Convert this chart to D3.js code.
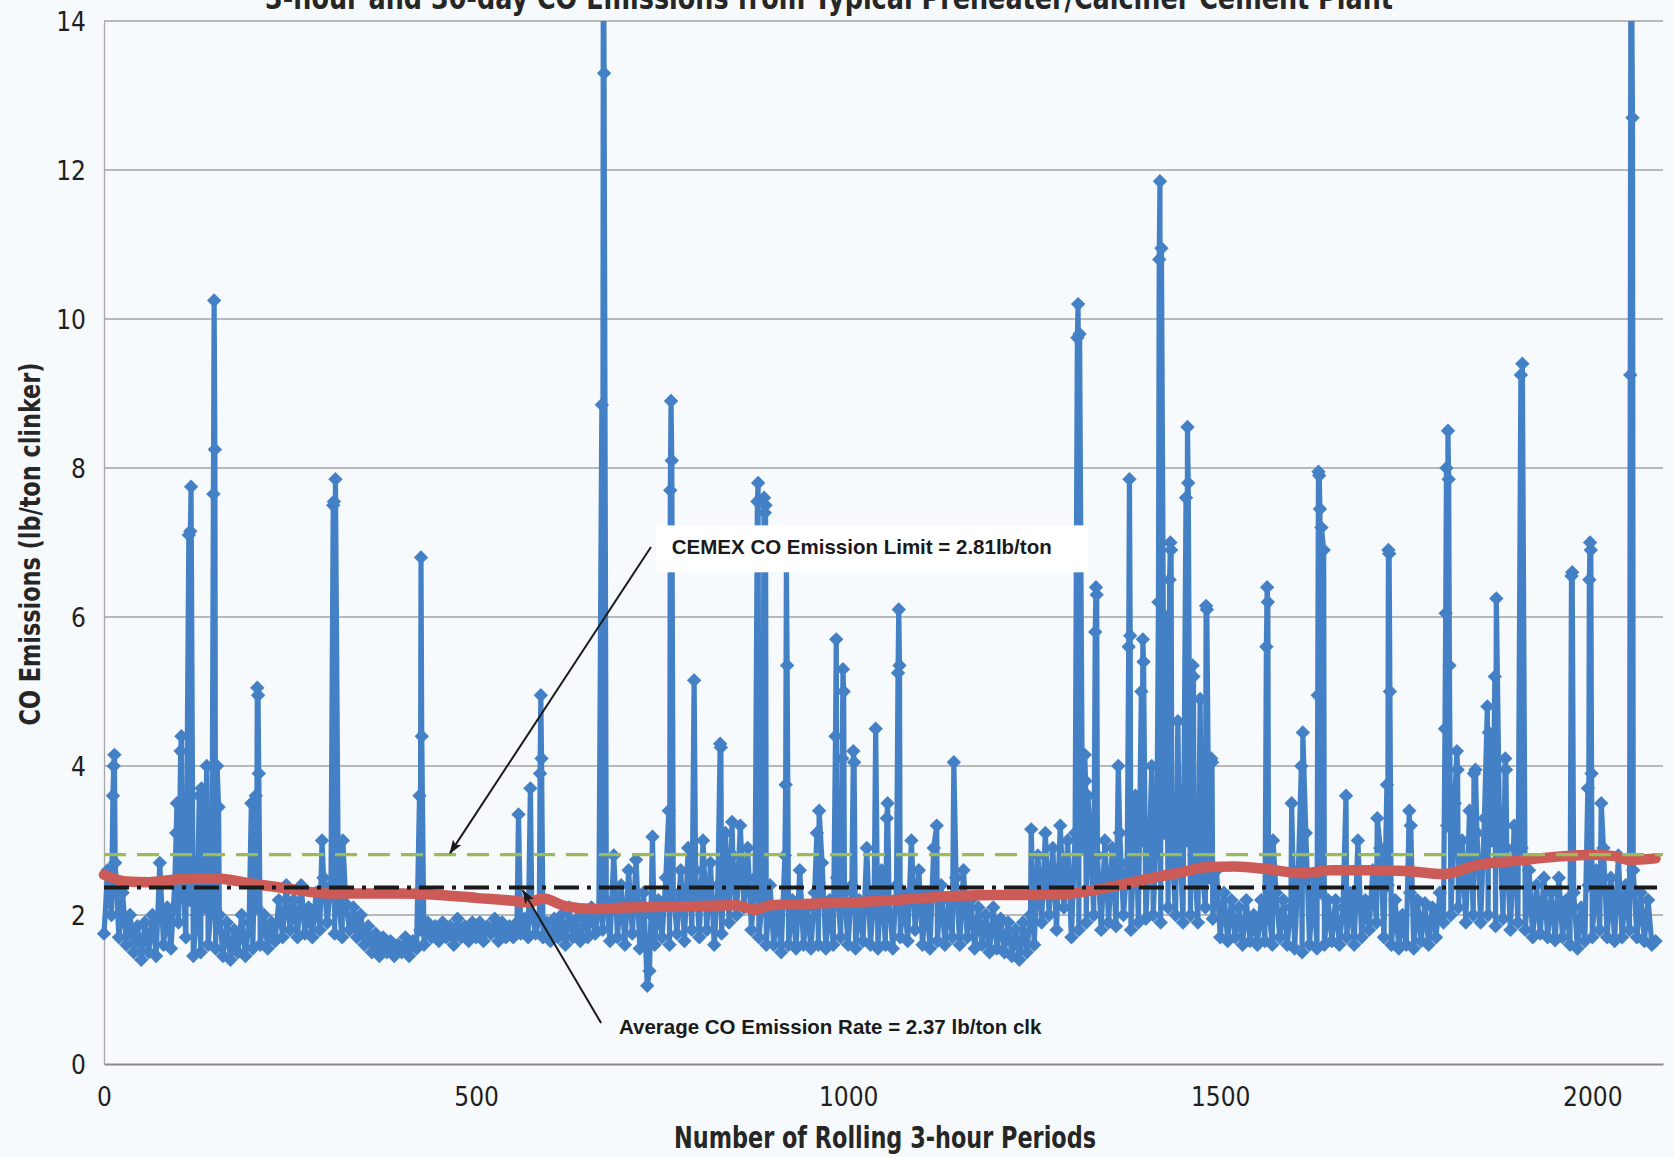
<!DOCTYPE html>
<html><head><meta charset="utf-8">
<script src="https://cdn.jsdelivr.net/npm/d3@7"></script>
<style>html,body{margin:0;padding:0;background:#f6fafc;} svg{display:block}</style>
</head><body><svg id="c" width="1674" height="1157"></svg>
<script>
// ---------------- DATA ----------------
const titleText = "3-hour and 30-day CO Emissions from Typical Preheater/Calciner Cement Plant";
const xLabel = "Number of Rolling 3-hour Periods";
const yLabel = "CO Emissions (lb/ton clinker)";
const xTicks = [0, 500, 1000, 1500, 2000];
const yTicks = [0, 2, 4, 6, 8, 10, 12, 14];

// 3-hour rolling values, one reading every 5 periods (period 0 .. 2085)
const basePeriodStep = 5;
const baseline3hr = [
 1.75,2.6,2.0,2.7,1.7,2.3,1.6,2.0,1.5,1.85,
 1.4,1.9,1.5,2.0,1.45,2.7,1.6,2.1,1.55,2.4,
 1.9,2.6,1.7,2.2,1.45,2.0,1.5,2.1,1.6,2.2,
 1.55,2.0,1.45,1.9,1.4,1.8,1.5,2.0,1.45,1.9,
 1.55,2.1,1.6,2.0,1.55,1.9,1.65,2.2,1.7,2.4,
 1.8,2.2,1.7,2.4,1.75,2.1,1.7,2.3,1.8,2.5,
 1.9,2.4,1.75,2.2,1.7,2.15,1.8,2.1,1.7,2.0,
 1.6,1.85,1.5,1.75,1.45,1.7,1.5,1.65,1.45,1.6,
 1.5,1.7,1.45,1.65,1.55,1.8,1.6,1.9,1.7,1.85,
 1.65,1.9,1.7,1.85,1.6,1.95,1.7,1.85,1.65,1.9,
 1.7,1.9,1.65,1.85,1.75,1.95,1.65,1.9,1.7,1.85,
 1.7,1.9,1.75,1.95,1.7,2.0,1.75,1.95,1.7,1.9,
 1.65,1.95,1.7,2.0,1.6,2.1,1.7,1.95,1.65,2.0,
 1.7,2.1,1.75,2.05,1.8,2.2,1.65,2.8,1.7,2.4,
 1.6,2.6,1.75,2.74,1.55,2.3,1.05,2.0,1.6,2.2,
 1.7,2.5,1.6,2.3,1.75,2.6,1.65,2.9,1.8,2.6,
 1.7,3.0,1.8,2.7,1.6,2.4,1.75,3.1,1.9,2.8,
 2.0,3.2,2.1,2.9,1.8,2.5,1.7,2.2,1.6,2.4,
 1.6,2.1,1.5,2.8,1.6,2.2,1.55,2.6,1.6,2.1,
 1.55,2.3,1.6,2.7,1.55,2.2,1.6,2.5,1.7,2.3,
 1.6,2.4,1.55,2.2,1.65,2.9,1.6,2.3,1.55,2.6,
 1.6,2.2,1.55,2.4,1.7,2.3,1.65,3.0,1.8,2.6,
 1.6,2.3,1.55,2.9,1.65,2.4,1.6,2.2,1.7,2.5,
 1.6,2.6,1.7,2.2,1.55,2.1,1.6,2.0,1.5,2.1,
 1.55,1.95,1.5,1.9,1.45,1.8,1.4,1.9,1.5,2.0,
 1.6,2.8,1.9,3.1,2.0,2.9,1.8,3.2,2.1,3.0,
 1.7,3.1,1.8,2.9,1.9,3.2,2.0,2.8,1.8,3.0,
 1.9,2.9,1.85,3.1,2.0,2.7,1.8,3.2,1.9,3.0,
 1.95,3.0,2.0,3.3,1.9,3.1,2.1,2.9,2.0,3.2,
 1.9,3.0,2.0,2.8,1.9,2.7,2.1,2.5,1.95,2.6,
 1.7,2.3,1.65,2.2,1.7,2.1,1.6,2.2,1.65,2.0,
 1.6,2.2,1.65,2.1,1.6,2.3,1.7,2.2,1.6,2.1,
 1.55,2.6,1.5,3.1,1.6,2.5,1.55,2.3,1.6,2.2,
 1.65,2.2,1.6,2.1,1.7,2.3,1.6,3.0,1.7,2.2,
 1.8,2.6,1.9,2.9,1.7,2.4,1.6,2.2,1.55,2.0,
 1.6,2.3,1.55,2.2,1.65,2.16,1.6,2.1,1.7,2.3,
 1.9,3.2,2.0,3.5,2.1,3.0,1.9,3.4,2.0,3.1,
 1.9,3.3,2.0,3.0,1.85,3.4,1.95,2.9,1.8,3.2,
 1.9,2.9,1.8,2.6,1.7,2.4,1.75,2.5,1.7,2.3,
 1.66,2.5,1.7,2.2,1.6,2.3,1.55,2.1,1.65,2.4,
 1.7,2.6,1.8,2.9,1.7,2.5,1.65,2.8,1.7,2.4,
 1.8,2.6,1.7,2.3,1.65,2.2,1.6,1.65
];

// high 3-hour readings (spikes): [period, lb/ton]
const spikes3hr = [
 [12,3.6],[13,4.0],[14,4.15],
 [97,3.1],[98,3.5],[103,4.2],[104,4.4],
 [114,7.1],[116,7.15],[117,7.75],
 [128,3.6],[131,3.7],[138,4.0],
 [147,7.65],[148,10.25],[149,8.25],
 [152,4.0],[154,3.45],
 [198,3.5],[204,3.6],[206,5.05],[207,4.95],[208,3.9],
 [293,3.0],[308,7.5],[309,7.55],[311,7.85],[321,3.0],
 [424,3.6],[426,6.8],[427,4.4],
 [557,3.35],[573,3.7],[586,3.9],[587,4.95],[588,4.1],
 [669,8.85],[671,16.0],[672,13.3],
 [733,1.25],[737,3.05],
 [759,3.4],[761,7.7],[762,8.9],[763,8.1],
 [793,5.15],[828,4.3],[829,4.25],[844,3.25],
 [878,7.55],[879,7.8],[887,7.6],[888,7.4],[889,7.5],
 [916,3.75],[917,6.7],[918,5.35],
 [958,3.1],[961,3.4],
 [983,4.4],[984,5.7],[992,4.1],[993,5.3],[994,5.0],
 [1007,4.2],[1008,4.05],[1037,4.5],[1052,3.3],[1053,3.5],
 [1067,5.25],[1068,6.1],[1069,5.35],
 [1119,3.2],[1142,4.05],[1246,3.15],
 [1308,9.75],[1309,10.2],[1311,9.8],
 [1318,4.15],[1319,3.8],[1322,3.6],
 [1332,5.8],[1333,6.4],[1334,6.3],
 [1363,4.0],[1377,5.6],[1378,7.85],[1379,5.75],[1386,3.6],
 [1394,5.0],[1396,5.7],[1397,5.4],[1408,4.0],
 [1417,6.2],[1418,10.8],[1419,11.85],[1421,10.95],
 [1426,5.5],[1427,6.0],[1432,6.5],[1433,7.0],[1434,6.9],
 [1443,4.6],[1454,7.6],[1456,8.55],[1457,7.8],
 [1463,5.35],[1464,5.2],[1473,4.9],[1481,6.15],[1482,6.1],
 [1488,4.1],[1489,4.05],
 [1562,5.6],[1563,6.4],[1564,6.2],[1571,3.0],[1596,3.5],
 [1609,4.0],[1611,4.45],
 [1631,4.95],[1632,7.95],[1633,7.9],[1634,7.45],[1636,7.2],[1639,6.9],
 [1669,3.6],[1711,3.3],
 [1724,3.75],[1726,6.9],[1727,6.85],[1728,5.0],
 [1754,3.4],[1756,3.2],
 [1802,4.5],[1803,6.05],[1804,8.0],[1806,8.5],[1807,7.85],[1808,5.35],
 [1818,4.2],[1819,3.95],[1841,3.9],[1843,3.95],
 [1859,4.8],[1861,4.45],[1868,4.4],[1869,5.2],[1871,6.25],
 [1883,4.1],[1884,3.95],[1904,9.25],[1906,9.4],
 [1972,6.55],[1973,6.6],
 [1994,3.7],[1996,6.5],[1997,7.0],[1998,6.9],[1999,3.9],
 [2012,3.5],[2051,9.25],[2052,16.0],[2054,12.7]
];

// 30-day rolling average: [period, lb/ton]
const avg30day = [
 [0,2.54],[30,2.45],[60,2.44],[100,2.48],[150,2.49],[200,2.42],[250,2.35],
 [300,2.29],[350,2.29],[400,2.29],[450,2.27],[500,2.23],[550,2.19],[570,2.17],
 [590,2.22],[620,2.12],[660,2.08],[700,2.10],[750,2.11],[800,2.12],[850,2.13],
 [875,2.07],[895,2.13],[950,2.15],[1000,2.17],[1050,2.19],[1100,2.23],[1150,2.26],
 [1200,2.27],[1250,2.27],[1300,2.29],[1350,2.37],[1400,2.48],[1450,2.58],[1480,2.64],
 [1520,2.65],[1560,2.62],[1610,2.56],[1650,2.60],[1700,2.60],[1750,2.59],[1800,2.55],
 [1845,2.67],[1900,2.73],[1950,2.78],[2000,2.81],[2030,2.79],[2050,2.74],[2085,2.76]
];

const emissionLimit = 2.81;
const averageRate = 2.37;
const limitLabel = "CEMEX CO Emission Limit = 2.81lb/ton";
const averageLabel = "Average CO Emission Rate = 2.37 lb/ton clk";

// ---------------- LAYOUT ----------------
const W = 1674, H = 1157;
const plot = {left: 104, right: 1663, top: 21, bottom: 1064};
const xMax = 2095, yMax = 14;
const narrow = '"Liberation Sans Narrow","Arial Narrow","DejaVu Sans Condensed",sans-serif';
const arial = '"Liberation Sans",Arial,sans-serif';

const svg = d3.select("#c");
svg.append("rect").attr("width", W).attr("height", H).attr("fill", "#f6fafc");

const x = d3.scaleLinear().domain([0, xMax]).range([plot.left, plot.right]);
const y = d3.scaleLinear().domain([0, yMax]).range([plot.bottom, plot.top]);

const defs = svg.append("defs");
defs.append("clipPath").attr("id", "clip").append("rect")
  .attr("x", plot.left - 8).attr("y", plot.top)
  .attr("width", plot.right - plot.left + 8).attr("height", plot.bottom - plot.top);
defs.append("marker").attr("id", "arrow").attr("viewBox", "0 0 14 10")
  .attr("refX", 13).attr("refY", 5).attr("markerWidth", 15).attr("markerHeight", 10)
  .attr("markerUnits", "userSpaceOnUse").attr("orient", "auto")
  .append("path").attr("d", "M0,0 L14,5 L0,10 L3,5 Z").attr("fill", "#1a1a1a");

// gridlines
svg.append("g").selectAll("line").data(yTicks.filter(d => d > 0)).join("line")
  .attr("x1", plot.left).attr("x2", plot.right)
  .attr("y1", d => y(d)).attr("y2", d => y(d))
  .attr("stroke", "#a3a3a3").attr("stroke-width", 1.3);

// axes
const yAxis = d3.axisLeft(y).tickValues(yTicks).tickSize(0).tickFormat(d3.format("d"));
const gy = svg.append("g").attr("transform", `translate(${plot.left},0)`).call(yAxis);
gy.select(".domain").attr("stroke", "#a8a8a8").attr("stroke-width", 1.3);
gy.selectAll("text").attr("x", -18).attr("dy", "0.35em")
  .style("font-family", narrow).style("font-size", "26px").attr("fill", "#1f1f1f");

const xAxis = d3.axisBottom(x).tickValues(xTicks).tickSize(0).tickFormat(d3.format("d"));
const gx = svg.append("g").attr("transform", `translate(0,${plot.bottom})`).call(xAxis);
gx.select(".domain").attr("stroke", "#8a8a8a").attr("stroke-width", 2.2);
gx.selectAll("text").attr("y", 24).attr("dy", "0.71em")
  .style("font-family", narrow).style("font-size", "26px").attr("fill", "#1f1f1f");

// 3-hour series
const series = baseline3hr.map((v, i) => [i * basePeriodStep, v])
  .concat(spikes3hr).sort((a, b) => a[0] - b[0]);

const blue = "#4480c5";
const gData = svg.append("g").attr("clip-path", "url(#clip)");
gData.append("path").datum(series)
  .attr("d", d3.line().x(d => x(d[0])).y(d => y(d[1])))
  .attr("fill", "none").attr("stroke", blue).attr("stroke-width", 5.2)
  .attr("stroke-linejoin", "round");
const r = 7.2;
const diamond = `M0,${-r}L${r},0L0,${r}L${-r},0Z`;
gData.append("g").selectAll("path").data(series).join("path")
  .attr("d", diamond)
  .attr("transform", d => `translate(${x(d[0])},${y(d[1])})`)
  .attr("fill", blue);

// 30-day average
svg.append("path").datum(avg30day)
  .attr("d", d3.line().x(d => x(d[0])).y(d => y(d[1])).curve(d3.curveMonotoneX))
  .attr("fill", "none").attr("stroke", "#cc5b57").attr("stroke-width", 10.5)
  .attr("stroke-linejoin", "round").attr("stroke-linecap", "round");

// limit line
svg.append("line")
  .attr("x1", x(0)).attr("x2", x(xMax))
  .attr("y1", y(emissionLimit)).attr("y2", y(emissionLimit))
  .attr("stroke", "#9bbb59").attr("stroke-width", 3.2).attr("stroke-dasharray", "22,11");

// average line
svg.append("line")
  .attr("x1", x(0)).attr("x2", x(2087))
  .attr("y1", y(averageRate)).attr("y2", y(averageRate))
  .attr("stroke", "#1a1a1a").attr("stroke-width", 4).attr("stroke-dasharray", "25,8,4,8");

// annotation: limit label with white box
svg.append("rect")
  .attr("x", x(742)).attr("y", y(7.23))
  .attr("width", x(1322) - x(742)).attr("height", y(6.6) - y(7.23))
  .attr("fill", "#ffffff");
svg.append("text").attr("x", x(763)).attr("y", y(6.85))
  .style("font-family", arial).style("font-weight", "bold").style("font-size", "20.5px")
  .attr("fill", "#1a1a1a").text(limitLabel);
svg.append("line")
  .attr("x1", x(735)).attr("y1", y(6.94)).attr("x2", x(465)).attr("y2", y(2.83))
  .attr("stroke", "#1a1a1a").attr("stroke-width", 2).attr("marker-end", "url(#arrow)");

// annotation: average label
svg.append("text").attr("x", x(692)).attr("y", y(0.40))
  .style("font-family", arial).style("font-weight", "bold").style("font-size", "20.5px")
  .attr("fill", "#1a1a1a").text(averageLabel);
svg.append("line")
  .attr("x1", x(668)).attr("y1", y(0.55)).attr("x2", x(563)).attr("y2", y(2.33))
  .attr("stroke", "#1a1a1a").attr("stroke-width", 2).attr("marker-end", "url(#arrow)");

// titles (widths fitted to the reference)
svg.append("text").attr("x", 829).attr("y", 9).attr("text-anchor", "middle")
  .attr("textLength", 1128).attr("lengthAdjust", "spacingAndGlyphs")
  .style("font-family", narrow).style("font-weight", "bold").style("font-size", "32px")
  .attr("fill", "#262626").text(titleText);
svg.append("text").attr("x", 885).attr("y", 1148).attr("text-anchor", "middle")
  .attr("textLength", 422).attr("lengthAdjust", "spacingAndGlyphs")
  .style("font-family", narrow).style("font-weight", "bold").style("font-size", "31px")
  .attr("fill", "#262626").text(xLabel);
svg.append("text").attr("transform", "translate(40,544) rotate(-90)").attr("text-anchor", "middle")
  .attr("textLength", 363).attr("lengthAdjust", "spacingAndGlyphs")
  .style("font-family", narrow).style("font-weight", "bold").style("font-size", "29px")
  .attr("fill", "#262626").text(yLabel);
</script></body></html>
